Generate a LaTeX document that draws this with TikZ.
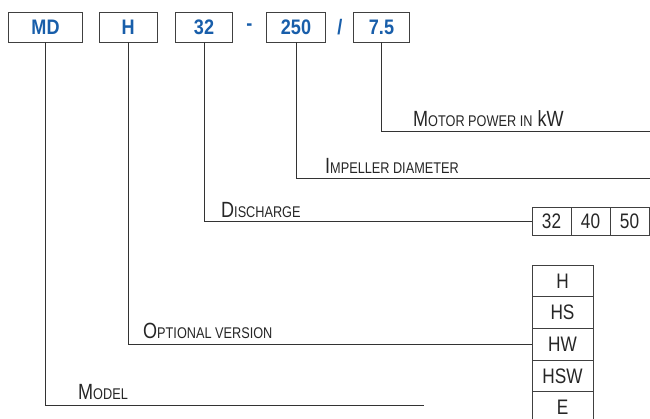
\documentclass[tikz,border=0pt]{standalone}
\usepackage{fontspec}
\setmainfont{Liberation Sans}
\newfontfamily\codefont[FakeStretch=0.86]{Liberation Sans}
\newfontfamily\lblfont[FakeStretch=0.82]{Liberation Sans}
\usepackage{xcolor}
\usetikzlibrary{positioning}

\definecolor{mdblue}{RGB}{24,94,170}
\newcommand{\smc}[1]{{\fontsize{15.5}{16}\selectfont #1}}

\begin{document}
\begin{tikzpicture}[
    x=1pt, y=-1pt,
    codebox/.style={rectangle, draw=black!75, line width=1pt, minimum height=29.6pt, inner sep=0pt, outer sep=0pt, text=mdblue, font=\codefont\bfseries\fontsize{21}{22}\selectfont},
    sep/.style={text=mdblue, inner sep=0pt, font=\codefont\bfseries\fontsize{21}{22}\selectfont},
    cell/.style={rectangle, draw=black!75, line width=0.9pt, inner sep=0pt, outer sep=0pt, text=black!85, font=\lblfont\fontsize{21}{22}\selectfont},
    vcell/.style={cell, minimum width=61pt, minimum height=31.6pt},
    hcell/.style={cell, minimum width=39pt, minimum height=28pt},
    label/.style={anchor=base west, inner sep=0pt, text=black!85, font=\lblfont\fontsize{22}{24}\selectfont},
    link/.style={draw=black!80, line width=0.9pt}
]
    \useasboundingbox (0,0) rectangle (650,418);

    % code boxes
    \node [codebox, minimum width=74.5pt] (md) at (45.5,27.5) {MD};
    \node [codebox, minimum width=58pt] (h) at (128.2,27.5) {H};
    \node [codebox, minimum width=57.4pt] (d32) at (204,27.5) {32};
    \node [sep] (dash) at (249.3,27.5) {-};
    \node [codebox, minimum width=58.6pt] (d250) at (296,27.5) {250};
    \node [sep] (slash) at (340,27.5) {/};
    \node [codebox, minimum width=56.7pt] (d75) at (381.5,27.5) {7.5};

    % discharge values
    \node [hcell] (c32) at (551.5,221) {32};
    \node [hcell, right=0pt of c32] (c40) {40};
    \node [hcell, right=0pt of c40] (c50) {50};

    % versions
    \node [vcell] (vH) at (562.5,281) {H};
    \node [vcell, below=0pt of vH] (vHS) {HS};
    \node [vcell, below=0pt of vHS] (vHW) {HW};
    \node [vcell, below=0pt of vHW] (vHSW) {HSW};
    \node [vcell, below=0pt of vHSW] (vE) {E};

    \coordinate (kwend) at (650,131);
    \coordinate (diaend) at (650,178);
    \coordinate (mdend) at (424,405);

    \draw [link] (d75.south) |- (kwend);
    \draw [link] (d250.south) |- (diaend);
    \draw [link] (d32.south) |- (c32.west);
    \draw [link] (h.south) |- (vHW.west);
    \draw [link] (md.south) |- (mdend);

    % labels
    \node [label] (kw) at (413,126) {M\smc{OTOR POWER IN} kW};
    \node [label] (dia) at (325,173) {I\smc{MPELLER DIAMETER}};
    \node [label] (dis) at (221,217) {D\smc{ISCHARGE}};
    \node [label] (opt) at (143,338) {O\smc{PTIONAL VERSION}};
    \node [label] (mod) at (78,399) {M\smc{ODEL}};
\end{tikzpicture}
\end{document}
